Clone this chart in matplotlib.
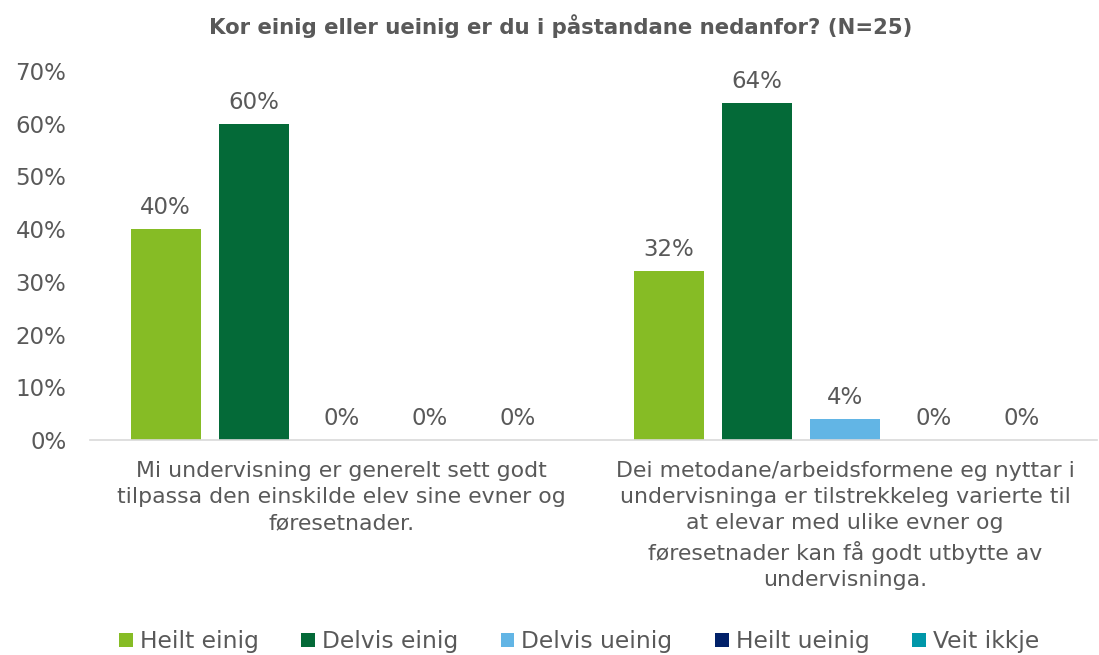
import matplotlib
matplotlib.use("Agg")
import matplotlib.pyplot as plt
from matplotlib.patches import Patch
import numpy as np

categories = [
    "Mi undervisning er generelt sett godt\ntilpassa den einskilde elev sine evner og\nføresetnader.",
    "Dei metodane/arbeidsformene eg nyttar i\nundervisninga er tilstrekkeleg varierte til\nat elevar med ulike evner og\nføresetnader kan få godt utbytte av\nundervisninga.",
]
series_names = ["Heilt einig", "Delvis einig", "Delvis ueinig", "Heilt ueinig", "Veit ikkje"]
values = [
    [0.40, 0.32],
    [0.60, 0.64],
    [0.00, 0.04],
    [0.00, 0.00],
    [0.00, 0.00],
]
colors = ["#86BC25", "#046A38", "#62B5E5", "#012169", "#0097A9"]
yticks = [0, 0.1, 0.2, 0.3, 0.4, 0.5, 0.6, 0.7]

txt = "#595959"
fs = 16.5
plt.rcParams['font.family'] = ['DejaVu Sans']

fig = plt.figure(figsize=(10.99, 6.55), dpi=100)
ax = fig.add_axes([0.0819, 0.328, 0.9161, 0.5636])

x = np.arange(len(categories))
step = 0.175
width = 0.139
for i, (name, vals, c) in enumerate(zip(series_names, values, colors)):
    pos = x + (i - 2) * step
    ax.bar(pos, vals, width=width, color=c, label=name)
    for p, v in zip(pos, vals):
        ax.text(p, v + 0.019, f"{v*100:.0f}%", ha="center", va="bottom",
                fontsize=fs, color=txt)

ax.set_xlim(-0.5, 1.5)
ax.set_ylim(0, 0.7)
ax.set_yticks(yticks)
ax.set_yticklabels([f"{t*100:.0f}%" for t in yticks], fontsize=fs, color=txt)
ax.set_xticks(x)
ax.set_xticklabels(categories, fontsize=15.8, color=txt, linespacing=1.39)
ax.tick_params(axis="x", length=0, pad=15)
ax.tick_params(axis="y", length=0, pad=17)
for s in ["top", "right", "left"]:
    ax.spines[s].set_visible(False)
ax.spines["bottom"].set_color("#D9D9D9")
ax.spines["bottom"].set_linewidth(1.2)

fig.suptitle("Kor einig eller ueinig er du i påstandane nedanfor? (N=25)",
             fontsize=15.3, fontweight="bold", color=txt, x=0.51, y=0.978)

handles = [Patch(facecolor=c, label=n) for n, c in zip(series_names, colors)]
fig.legend(handles=handles, loc="lower center", bbox_to_anchor=(0.527, -0.029),
           ncol=5, frameon=False, fontsize=16.8, labelcolor=txt,
           handlelength=0.58, handleheight=0.58, handletextpad=0.3, columnspacing=1.83)

fig.savefig("out.png", dpi=100)
